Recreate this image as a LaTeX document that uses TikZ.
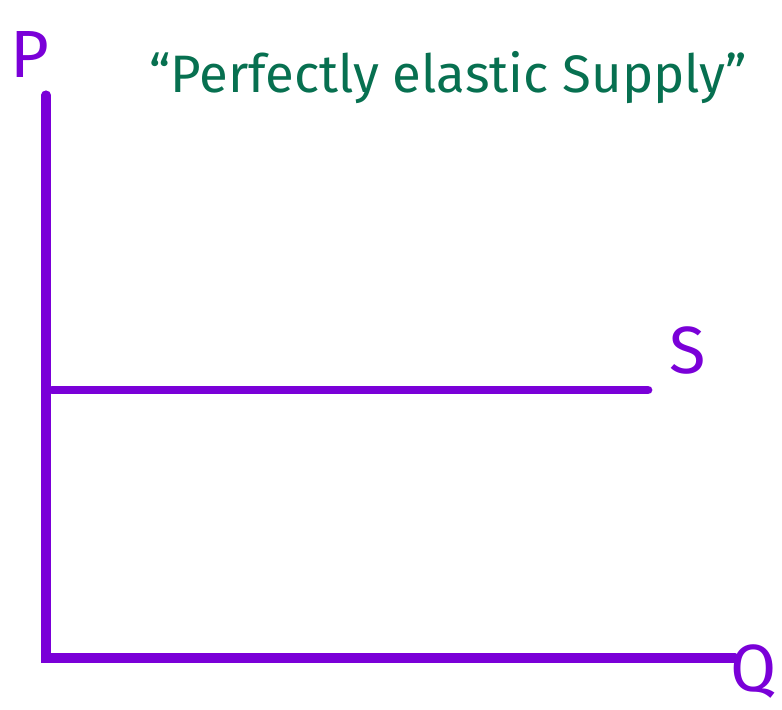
\documentclass[tikz,border=0pt]{standalone}
\usepackage{fontspec}
\setmainfont{Fira Sans}
\usetikzlibrary{positioning}
\definecolor{curvepurple}{HTML}{7A00D8}
\definecolor{titlegreen}{HTML}{077050}
\tikzset{
	axisline/.style={curvepurple,line width=5.2pt,line cap=round},
	curveline/.style={curvepurple,line width=5pt,line cap=round},
	axislabel/.style={curvepurple,font=\fontsize{38}{42}\selectfont,inner sep=0pt},
	titletext/.style={titlegreen,font=\fontsize{30}{34}\selectfont,inner sep=0pt}
}

\begin{document}
\begin{tikzpicture}[x=0.02cm,y=-0.02cm]
		
		\useasboundingbox
		(0,0) rectangle (782,710);
		
		\coordinate (O) at (46,658);
		\coordinate (ytop) at (46,95);
		\coordinate (xend) at (735,658);
		\coordinate (sleft) at (52,390);
		\coordinate (sright) at (648,390);
		
		\draw[axisline]
		(ytop) -- (O) -- (xend);
		
		\draw[curveline]
		(sleft) -- (sright);
		
		\node[axislabel] (plabel)
		at (30,54) {P};
		
		\node[axislabel] (slabel)
		at (688,350) {S};
		
		\node[axislabel] (qlabel)
		at (754,672) {Q};
		
		\node[titletext] (title)
		at (448,78)
		{``Perfectly elastic Supply''};
		
	\end{tikzpicture}
\end{document}
